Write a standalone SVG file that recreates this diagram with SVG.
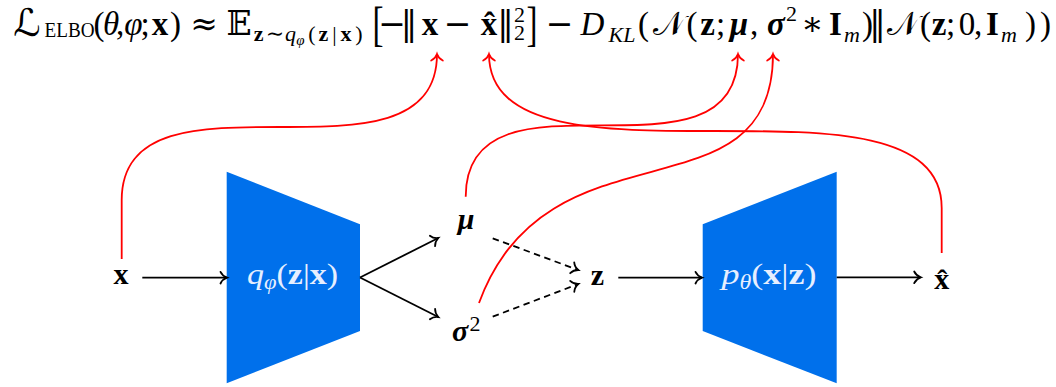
<svg xmlns="http://www.w3.org/2000/svg" width="1056" height="387" viewBox="0 0 1056 387">
<style>
text{font-family:"Liberation Serif","DejaVu Serif",serif;text-anchor:middle;fill:#000}
.f{font-size:33px}
.s{font-size:22px}
.ss{font-size:15px}
.l{font-size:30px}
.i{font-style:italic}
.b{font-weight:bold}
.bi{font-weight:bold;font-style:italic}
.sym{font-family:"DejaVu Serif","DejaVu Sans",serif}
.w{fill:#e6efff}
.blk{fill:none;stroke:#000;stroke-width:1.8}
.dash{stroke-dasharray:6.5 4.5}
.red{fill:none;stroke:#ff0000;stroke-width:1.8}
.trap{fill:#0070eb}
</style>
<defs>
<marker id="ah" markerUnits="userSpaceOnUse" orient="auto" refX="0" refY="0" markerWidth="20" markerHeight="20" viewBox="-10 -10 20 20" overflow="visible">
<path d="M-6.5,-5.8 C-5,-2.6 -2,-0.7 0,0 C-2,0.7 -5,2.6 -6.5,5.8" fill="none" stroke="#000" stroke-width="1.8" stroke-linecap="round"/>
</marker>
<marker id="ahr" markerUnits="userSpaceOnUse" orient="auto" refX="0" refY="0" markerWidth="20" markerHeight="20" viewBox="-10 -10 20 20" overflow="visible">
<path d="M-6.5,-5.8 C-5,-2.6 -2,-0.7 0,0 C-2,0.7 -5,2.6 -6.5,5.8" fill="none" stroke="#ff0000" stroke-width="1.8" stroke-linecap="round"/>
</marker>
</defs>

<g id="formula">
<text class="sym i" font-size="38" x="27" y="36">ℒ</text>
<text class="s" x="69.5" y="37" textLength="50" lengthAdjust="spacingAndGlyphs">ELBO</text>
<text class="f" x="99" y="35">(</text>
<text class="f i" x="111" y="35">θ</text>
<text class="f" x="120" y="35">,</text>
<text class="f i" x="133.5" y="35">φ</text>
<text class="f" x="145" y="35">;</text>
<text class="f b" x="160" y="35">x</text>
<text class="f" x="175.5" y="35">)</text>
<text class="f sym" x="204" y="35">≈</text>
<text class="f sym" x="239" y="35">𝔼</text>
<text class="s b" x="258.7" y="41">z</text>
<text class="s sym" x="275" y="41">∼</text>
<text class="s i" x="290.5" y="41">q</text>
<text class="ss i" x="300.5" y="45">φ</text>
<text class="s" x="312" y="41">(</text>
<text class="s b" x="323.5" y="41">z</text>
<text class="s" x="334.5" y="41">|</text>
<text class="s b" x="346" y="41">x</text>
<text class="s" x="359" y="41">)</text>
<text class="f" transform="translate(378,40) scale(1,1.5)">[</text>
<text class="f sym" x="392" y="35">−</text>
<text class="f sym" x="409" y="35">‖</text>
<text class="f b" x="430" y="35">x</text>
<text class="f sym" x="457.5" y="35">−</text>
<text class="f b" x="489" y="35">x̂</text>
<text class="f sym" x="505.5" y="35">‖</text>
<text class="s" x="519.5" y="22">2</text>
<text class="s" x="519.5" y="40">2</text>
<text class="f" transform="translate(532,40) scale(1,1.5)">]</text>
<text class="f sym" x="559.5" y="35">−</text>
<text class="f i" x="592.5" y="35">D</text>
<text class="s i" x="622" y="42">KL</text>
<text class="f" x="643.5" y="35">(</text>
<text class="f sym" x="668.5" y="35">𝒩</text>
<text class="f" x="692" y="35">(</text>
<text class="f b" x="707.5" y="35">z</text>
<text class="f" x="720.5" y="35">;</text>
<text class="f bi" x="739" y="35">μ</text>
<text class="f" x="754" y="35">,</text>
<text class="f bi" x="776" y="35">σ</text>
<text class="s" x="791.5" y="21">2</text>
<text class="f sym" x="812.5" y="35">∗</text>
<text class="f b" x="835.5" y="35">I</text>
<text class="s i" x="852" y="42">m</text>
<text class="f" x="867.5" y="35">)</text>
<text class="f sym" x="877.5" y="35">‖</text>
<text class="f sym" x="902.5" y="35">𝒩</text>
<text class="f" x="925.5" y="35">(</text>
<text class="f b" x="939" y="35">z</text>
<text class="f" x="950.5" y="35">;</text>
<text class="f" x="967" y="35">0</text>
<text class="f" x="978" y="35">,</text>
<text class="f b" x="992.5" y="35">I</text>
<text class="s i" x="1009" y="42">m</text>
<text class="f" x="1030.5" y="35">)</text>
<text class="f" x="1045.5" y="35">)</text>
</g>

<g id="node-x"><text class="l b" x="121" y="284">x</text></g>
<g id="node-encoder">
<polygon class="trap" points="226.7,171.7 360,224.3 360,331 226.7,383.3"/>
<text class="l w" x="292.5" y="284" textLength="91" lengthAdjust="spacingAndGlyphs"><tspan class="i">q</tspan><tspan class="i" font-size="20" dy="5">φ</tspan><tspan dy="-5">(</tspan><tspan class="b">z</tspan>|<tspan class="b">x</tspan>)</text>
</g>
<g id="node-mu"><text class="l bi" x="466" y="229">μ</text></g>
<g id="node-sigma"><text class="l bi" x="460" y="341">σ</text><text class="s" x="475" y="331">2</text></g>
<g id="node-z"><text class="l b" x="597.5" y="285">z</text></g>
<g id="node-decoder">
<polygon class="trap" points="702.7,224.3 836.7,171.7 836.7,383.3 702.7,331"/>
<text class="l w" x="769" y="284" textLength="95" lengthAdjust="spacingAndGlyphs"><tspan class="i">p</tspan><tspan class="i" font-size="20" dy="5">θ</tspan><tspan dy="-5">(</tspan><tspan class="b">x</tspan>|<tspan class="b">z</tspan>)</text>
</g>
<g id="node-xhat"><text class="l b" x="941.7" y="289">x̂</text></g>

<g id="connectors">
<line class="blk" x1="142.3" y1="277.7" x2="227" y2="277.7" marker-end="url(#ah)"/>
<line class="blk" x1="360" y1="277.5" x2="438.3" y2="238" marker-end="url(#ah)"/>
<line class="blk" x1="360" y1="277.5" x2="438.3" y2="317" marker-end="url(#ah)"/>
<line class="blk dash" x1="492.7" y1="238.3" x2="578.3" y2="270" marker-end="url(#ah)"/>
<line class="blk dash" x1="492.7" y1="316.7" x2="578.3" y2="284" marker-end="url(#ah)"/>
<line class="blk" x1="618.3" y1="277.7" x2="702" y2="277.7" marker-end="url(#ah)"/>
<line class="blk" x1="836.7" y1="277.3" x2="920.7" y2="277.3" marker-end="url(#ah)"/>
<path class="red" d="M121.7,259 L121.7,200 C121.7,54 437,200 437,54" marker-end="url(#ahr)"/>
<path class="red" d="M941.7,253 L941.7,208 C941.7,54 489,208 489,54" marker-end="url(#ahr)"/>
<path class="red" d="M465.7,196.7 C465.7,54 738,196.7 738,54" marker-end="url(#ahr)"/>
<path class="red" d="M479,303 C547.4,115 773,224 773,54" marker-end="url(#ahr)"/>
</g>
</svg>
